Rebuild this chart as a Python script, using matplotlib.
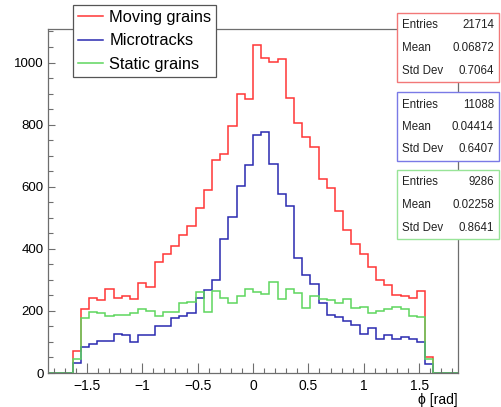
import numpy as np
import matplotlib
matplotlib.use("Agg")
import matplotlib.pyplot as plt
from matplotlib.lines import Line2D
from matplotlib.patches import Rectangle
from matplotlib.ticker import MultipleLocator

plt.rcParams["font.family"] = ["Liberation Sans", "DejaVu Sans"]

# ── Data: 50 bins from -1.85 to 1.85 rad ─────────────────────────────
X_MIN, X_MAX, N_BINS = -1.85, 1.85, 50

moving_grains = [0, 0, 0,
                 71, 206, 242, 235, 269, 240, 248, 237, 290, 276,
                 356, 384, 410, 446, 474, 533, 591, 685, 705, 797,
                 900, 882, 1055, 1013, 1003, 1011, 887, 805, 759, 728,
                 624, 597, 522, 460, 417, 382, 340, 300, 283, 251,
                 248, 243, 265, 52,
                 0, 0, 0]

microtracks = [0, 0, 0,
               33, 85, 95, 102, 102, 127, 121, 99, 123, 124,
               151, 151, 178, 183, 193, 240, 268, 298, 430, 502,
               603, 669, 765, 775, 672, 576, 538, 371, 317, 288,
               225, 186, 179, 167, 155, 126, 144, 110, 121, 108,
               117, 110, 101, 28,
               0, 0, 0]

static_grains = [0, 0, 0,
                 45, 177, 195, 193, 182, 188, 187, 193, 206, 200,
                 183, 195, 197, 225, 230, 261, 197, 265, 240, 227,
                 247, 272, 261, 253, 294, 238, 269, 257, 208, 248,
                 238, 236, 226, 237, 210, 212, 193, 201, 206, 211,
                 207, 184, 179, 45,
                 0, 0, 0]

labels = ["Moving grains", "Microtracks", "Static grains"]
stat_names = ["Entries", "Mean", "Std Dev"]
stat_values = [["21714", "0.06872", "0.7064"],
               ["11088", "0.04414", "0.6407"],
               ["9286", "0.02258", "0.8641"]]

# ── Style ─────────────────────────────────────────────────────────────
LINE_COLORS = ["#ff3535", "#2a2ab0", "#5ed65e"]
BOX_COLORS = ["#f27878", "#7a7ae6", "#98e498"]
FRAME = "#6e6e6e"

W, H = 502, 407


def fx(px):
    return px / W


def fy(py):
    return 1 - py / H


fig = plt.figure(figsize=(W / 100, H / 100), dpi=100)
ax = fig.add_axes([fx(48), fy(373), (458 - 48) / W, (373 - 29) / H])

edges = np.linspace(X_MIN, X_MAX, N_BINS + 1)
for vals, col in zip([moving_grains, microtracks, static_grains], LINE_COLORS):
    ax.stairs(vals, edges, color=col, linewidth=1.1)

ax.set_xlim(X_MIN, X_MAX)
ax.set_ylim(0, 1108)
ax.set_xticks([-1.5, -1, -0.5, 0, 0.5, 1, 1.5])
ax.set_xticklabels(["\u22121.5", "\u22121", "\u22120.5", "0", "0.5", "1", "1.5"])
ax.xaxis.set_minor_locator(MultipleLocator(0.1))
ax.set_yticks(range(0, 1001, 200))
ax.yaxis.set_minor_locator(MultipleLocator(50))

ax.tick_params(axis="x", which="major", direction="in", length=7.2,
               width=0.8, color=FRAME, labelsize=10, pad=4)
ax.tick_params(axis="x", which="minor", direction="in", length=3.6,
               width=0.8, color=FRAME)
ax.tick_params(axis="y", which="major", direction="in", length=5,
               width=0.8, color=FRAME, labelsize=9.5, pad=3)
ax.tick_params(axis="y", which="minor", direction="in", length=3.6,
               width=0.8, color=FRAME)
for sp in ax.spines.values():
    sp.set_color(FRAME)
    sp.set_linewidth(0.9)

ax.set_xlabel("\u03d5 [rad]", loc="right", fontsize=10, labelpad=0)

# ── Legend ────────────────────────────────────────────────────────────
handles = [Line2D([], [], color=c, linewidth=1.1) for c in LINE_COLORS]
leg = ax.legend(handles, labels, loc="upper left",
                bbox_to_anchor=(fx(73), fy(5)), bbox_transform=fig.transFigure,
                borderaxespad=0, fontsize=11.8, frameon=True, fancybox=False,
                edgecolor="#555555", framealpha=1, handlelength=1.52,
                handletextpad=0.4, labelspacing=0.52, borderpad=0.3)
leg.get_frame().set_linewidth(0.9)

# ── Stats boxes ───────────────────────────────────────────────────────
box_tops = [13, 92, 170]
box_h = 69
for top, col, vals in zip(box_tops, BOX_COLORS, stat_values):
    fig.add_artist(Rectangle((fx(397), fy(top + box_h)), (499 - 397) / W,
                             box_h / H, transform=fig.transFigure,
                             facecolor="white", edgecolor=col, linewidth=1.0,
                             zorder=5))
    for i, (name, val) in enumerate(zip(stat_names, vals)):
        yc = fy(top + 12.5 + i * 22.5)
        fig.text(fx(402), yc, name, ha="left", va="center", fontsize=8.3,
                 color="#222222", zorder=6)
        fig.text(fx(494), yc, val, ha="right", va="center", fontsize=8.3,
                 color="#222222", zorder=6)

fig.savefig("out.png", dpi=100)
